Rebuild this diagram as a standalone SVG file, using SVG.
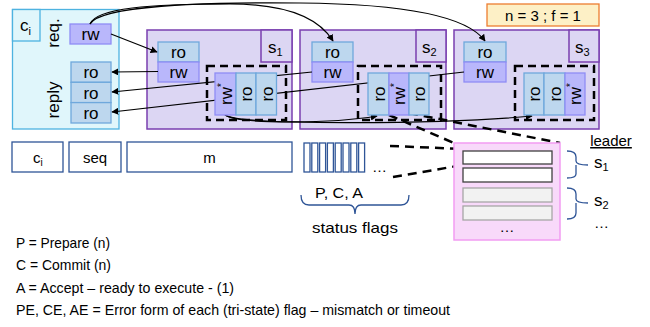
<svg xmlns="http://www.w3.org/2000/svg" width="650" height="327" viewBox="0 0 650 327">
<defs>
<style>
.client{fill:#e0f6fb;stroke:#4eb3e0;stroke-width:1.3}
.srv{fill:#dcd6f3;stroke:#7a3fb0;stroke-width:1.5}
.ro{fill:#bdd7ee;stroke:#6fa8dc;stroke-width:1.3}
.rw{fill:#b9b7fb;stroke:#8f8df5;stroke-width:1.3}
.dbox{fill:none;stroke:#000;stroke-width:2.5;stroke-dasharray:8 5}
.dl{fill:none;stroke:#000;stroke-width:2.5;stroke-dasharray:9 6}
.conn{fill:none;stroke:#000;stroke-width:1.2}
.t{font-family:"Liberation Sans",Arial,sans-serif;font-size:17px;fill:#000}
.s{font-family:"Liberation Sans",Arial,sans-serif;font-size:15px;fill:#000}
.msg{fill:#fff;stroke:#2f5597;stroke-width:1.3}
.brace{fill:none;stroke:#2f5597;stroke-width:1.3}
</style>
<marker id="ah" viewBox="0 0 10 10" refX="9" refY="5" markerWidth="7" markerHeight="7" markerUnits="userSpaceOnUse" orient="auto">
<path d="M0,0 L10,5 L0,10 z" fill="#000"/>
</marker>
</defs>

<g id="client">
<rect class="client" x="12.5" y="9.5" width="106.5" height="119.5"/>
<rect class="client" x="12.5" y="9.5" width="27.5" height="31.5"/>
<text class="t" x="20" y="31">c<tspan font-size="11" dy="4">i</tspan></text>
<text class="t" transform="translate(58.5,33) rotate(-90)" text-anchor="middle">req.</text>
<text class="t" transform="translate(58.5,100) rotate(-90)" text-anchor="middle">reply</text>
<rect class="rw" x="70" y="24" width="41" height="20"/>
<text class="t" x="90.5" y="40" text-anchor="middle">rw</text>
<rect class="ro" x="71" y="62" width="40" height="20.3"/>
<text class="t" x="91" y="78" text-anchor="middle">ro</text>
<rect class="ro" x="71" y="82.3" width="40" height="20.3"/>
<text class="t" x="91" y="98.5" text-anchor="middle">ro</text>
<rect class="ro" x="71" y="102.6" width="40" height="20.4"/>
<text class="t" x="91" y="119" text-anchor="middle">ro</text>
</g>

<g id="s1">
<rect class="srv" x="147" y="30" width="145" height="99"/>
<rect class="srv" x="261" y="30" width="31" height="32"/>
<text class="t" x="268" y="53">s<tspan font-size="11" dy="3">1</tspan></text>
<rect class="ro" x="158" y="42" width="41" height="20"/>
<text class="t" x="178.5" y="58" text-anchor="middle">ro</text>
<rect class="rw" x="158" y="62" width="41" height="20"/>
<text class="t" x="178.5" y="78" text-anchor="middle">rw</text>
</g>

<g id="s2">
<rect class="srv" x="300" y="30" width="146" height="99"/>
<rect class="srv" x="416" y="30" width="30" height="32"/>
<text class="t" x="422" y="53">s<tspan font-size="11" dy="3">2</tspan></text>
<rect class="ro" x="312" y="42" width="41" height="20"/>
<text class="t" x="332.5" y="58" text-anchor="middle">ro</text>
<rect class="rw" x="312" y="62" width="41" height="20"/>
<text class="t" x="332.5" y="78" text-anchor="middle">rw</text>
</g>

<g id="s3">
<rect class="srv" x="454" y="30" width="145" height="99"/>
<rect class="srv" x="569" y="30" width="30" height="32"/>
<text class="t" x="575" y="53">s<tspan font-size="11" dy="3">3</tspan></text>
<rect class="ro" x="464" y="42" width="42" height="20"/>
<text class="t" x="485" y="58" text-anchor="middle">ro</text>
<rect class="rw" x="464" y="62" width="42" height="20"/>
<text class="t" x="485" y="78" text-anchor="middle">rw</text>
</g>

<g id="connectors">
<path class="conn" d="M111,34 L157,52" marker-end="url(#ah)"/>
<path class="conn" d="M90,24 C96,8 150,4 230,4 C290,4 320,20 333,41" marker-end="url(#ah)"/>
<path class="conn" d="M90,24 C100,6 200,2 300,3 C420,4 470,20 485,41" marker-end="url(#ah)"/>
<path class="conn" d="M158,71.5 L112,72" marker-end="url(#ah)"/>
<path class="conn" d="M312,72 L112,92" marker-end="url(#ah)"/>
<path class="conn" d="M464,72 L112,112" marker-end="url(#ah)"/>
<path class="conn" d="M225,115 C238,124 330,124 377,116" marker-end="url(#ah)"/>
<path class="conn" d="M225,115 C240,126 450,124 532,116" marker-end="url(#ah)"/>
<path class="dl" d="M389,115 L454,143"/>
<path class="dl" d="M409,113 L560,143"/>
<path class="dl" d="M390,146 L463,149"/>
<path class="dl" d="M393,177 L463,165"/>
<path class="conn" d="M468,149 L463,149 L463,165"/>
</g>

<g id="s1-log">
<rect class="dbox" x="207" y="66" width="79" height="54"/>
<rect class="rw" x="215" y="73" width="21" height="42"/>
<text class="t" transform="translate(231.5,94) rotate(-90)" text-anchor="middle">rw<tspan font-size="10" dy="-7">*</tspan></text>
<rect class="ro" x="236" y="73" width="20" height="42"/>
<text class="t" transform="translate(252,94) rotate(-90)" text-anchor="middle">ro</text>
<rect class="ro" x="256" y="73" width="20.5" height="42"/>
<text class="t" transform="translate(272.5,94) rotate(-90)" text-anchor="middle">ro</text>
</g>

<g id="s2-log">
<rect class="dbox" x="358" y="66" width="83" height="54"/>
<rect class="ro" x="368" y="73" width="21" height="42"/>
<text class="t" transform="translate(384.5,94) rotate(-90)" text-anchor="middle">ro</text>
<rect class="rw" x="389" y="73" width="20" height="42"/>
<text class="t" transform="translate(405,94) rotate(-90)" text-anchor="middle">rw<tspan font-size="10" dy="-7">*</tspan></text>
<rect class="ro" x="409" y="73" width="20" height="42"/>
<text class="t" transform="translate(425,94) rotate(-90)" text-anchor="middle">ro</text>
</g>

<g id="s3-log">
<rect class="dbox" x="515" y="66" width="79" height="54"/>
<rect class="ro" x="524" y="73" width="20" height="42"/>
<text class="t" transform="translate(540,94) rotate(-90)" text-anchor="middle">ro</text>
<rect class="ro" x="544" y="73" width="21" height="42"/>
<text class="t" transform="translate(560.5,94) rotate(-90)" text-anchor="middle">ro</text>
<rect class="rw" x="565" y="73" width="20" height="42"/>
<text class="t" transform="translate(581,94) rotate(-90)" text-anchor="middle">rw<tspan font-size="10" dy="-7">*</tspan></text>
</g>

<g id="config">
<rect x="487" y="4" width="112" height="22" fill="#fdf0c6" stroke="#ed7d31" stroke-width="1.3"/>
<text class="s" x="543" y="21" font-size="16" text-anchor="middle">n = 3 ; f = 1</text>
</g>

<g id="message">
<rect class="msg" x="12" y="142" width="51" height="30"/>
<text class="s" x="33" y="163">c<tspan font-size="10" dy="3">i</tspan></text>
<rect class="msg" x="69" y="142" width="52" height="30"/>
<text class="s" x="95" y="163" text-anchor="middle">seq</text>
<rect class="msg" x="127" y="142" width="165" height="30"/>
<text class="s" x="209.5" y="163" text-anchor="middle">m</text>
<g class="msg">
<rect x="304" y="143" width="6" height="29"/>
<rect x="311.8" y="143" width="6" height="29"/>
<rect x="319.6" y="143" width="6" height="29"/>
<rect x="327.4" y="143" width="6" height="29"/>
<rect x="335.2" y="143" width="6" height="29"/>
<rect x="343" y="143" width="6" height="29"/>
<rect x="350.8" y="143" width="6" height="29"/>
<rect x="358.6" y="143" width="6" height="29"/>
</g>
<text class="s" x="372" y="172">…</text>
<text class="s" x="339" y="198" text-anchor="middle" textLength="48" lengthAdjust="spacingAndGlyphs">P, C, A</text>
<path class="brace" d="M301,195 Q301,205 309,205 L349,205 Q355,205 355,214 Q355,205 361,205 L401,205 Q409,205 409,195"/>
<text class="s" x="355" y="233" text-anchor="middle" textLength="86" lengthAdjust="spacingAndGlyphs">status flags</text>
</g>

<g id="leader">
<rect x="454" y="143" width="106" height="97" fill="#f8d9fa" stroke="#f29cf2" stroke-width="1.5"/>
<rect x="463" y="151" width="89" height="13" fill="#fff" stroke="#404040" stroke-width="1.3"/>
<rect x="463" y="168" width="89" height="14" fill="#fff" stroke="#404040" stroke-width="1.3"/>
<rect x="463" y="188" width="89" height="14" fill="#f2f2f2" stroke="#a6a6a6" stroke-width="1.3"/>
<rect x="463" y="206" width="89" height="14" fill="#f2f2f2" stroke="#a6a6a6" stroke-width="1.3"/>
<text class="s" x="507" y="232" text-anchor="middle">…</text>
<text class="s" x="611" y="146" font-size="16" text-anchor="middle" text-decoration="underline">leader</text>
<path class="brace" d="M567,151 Q576,151 576,157 L576,161 Q576,165 588,165 M576,165 Q576,169 576,172 L576,174 Q576,178 567,178"/>
<text class="t" x="594" y="168">s<tspan font-size="11" dy="3">1</tspan></text>
<path class="brace" d="M567,188 Q576,188 576,194 L576,199 Q576,203 588,203 M576,203 Q576,207 576,210 L576,213 Q576,219 567,219"/>
<text class="t" x="594" y="206">s<tspan font-size="11" dy="3">2</tspan></text>
<text class="s" x="594" y="228">…</text>
</g>

<g id="legend">
<text class="s" x="16" y="248" font-size="16" textLength="94" lengthAdjust="spacingAndGlyphs">P = Prepare (n)</text>
<text class="s" x="16" y="270" font-size="16" textLength="95" lengthAdjust="spacingAndGlyphs">C = Commit (n)</text>
<text class="s" x="16" y="293" font-size="16" textLength="218" lengthAdjust="spacingAndGlyphs">A = Accept – ready to execute - (1)</text>
<text class="s" x="16" y="315" font-size="16" textLength="434" lengthAdjust="spacingAndGlyphs">PE, CE, AE = Error form of each (tri-state) flag – mismatch or timeout</text>
</g>
</svg>
